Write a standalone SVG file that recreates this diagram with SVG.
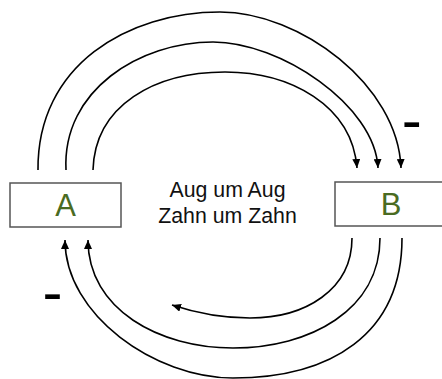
<svg xmlns="http://www.w3.org/2000/svg" width="442" height="379" viewBox="0 0 442 379">
  <style>
    .box { fill: #ffffff; stroke: #555555; stroke-width: 1.5; }
    .letter { font-family: "Liberation Sans", Arial, sans-serif; font-size: 31px; fill: #4a6b22; text-anchor: middle; }
    .caption { font-family: "Liberation Sans", Arial, sans-serif; font-size: 21.3px; fill: #111111; text-anchor: middle; }
    .sign { font-family: "Liberation Sans", Arial, sans-serif; font-size: 60px; fill: #000000; }
    .arc { fill: none; stroke: #000000; stroke-width: 1.6; marker-end: url(#ah); }
  </style>
  <defs>
    <marker id="ah" viewBox="0 0 9 8" refX="9" refY="4" markerWidth="9" markerHeight="8" markerUnits="userSpaceOnUse" orient="auto">
      <path d="M0 0 L9 4 L0 8 z" fill="#000000"/>
    </marker>
  </defs>

  <rect width="442" height="379" fill="#ffffff"/>

  <!-- connectors: three arcs A to B over the top, three arcs B back toward A underneath -->
  <g id="connectors">
    <path class="arc" d="M38 170 C37 65 128 12 220 12 C300 12 398 85 401 168"/>
    <path class="arc" d="M66 170 C62 90 140 42 213 42 C280 42 375 105 378 168"/>
    <path class="arc" d="M93 170 C95 105 155 72 225 72 C290 72 352 105 357 168"/>

    <path class="arc" d="M402 238 C402 335 330 378 233 378 C155 378 65 315 65 240"/>
    <path class="arc" d="M380 238 C380 310 310 348 233 348 C160 348 88 310 88 240"/>
    <path class="arc" d="M352 238 C352 290 305 318 250 318 C215 318 190 311 172 305"/>
  </g>

  <g id="node-a">
    <rect class="box" x="10" y="183" width="111" height="44"/>
    <text class="letter" x="65.5" y="216">A</text>
  </g>

  <g id="node-b">
    <rect class="box" x="335" y="182" width="112" height="44"/>
    <text class="letter" x="391" y="215">B</text>
  </g>

  <g id="caption">
    <text class="caption" x="227.5" y="197">Aug um Aug</text>
    <text class="caption" x="227.5" y="223">Zahn um Zahn</text>
  </g>

  <g id="signs">
    <text class="sign" x="401.7" y="140">-</text>
    <text class="sign" x="42.4" y="311.5">-</text>
  </g>
</svg>
